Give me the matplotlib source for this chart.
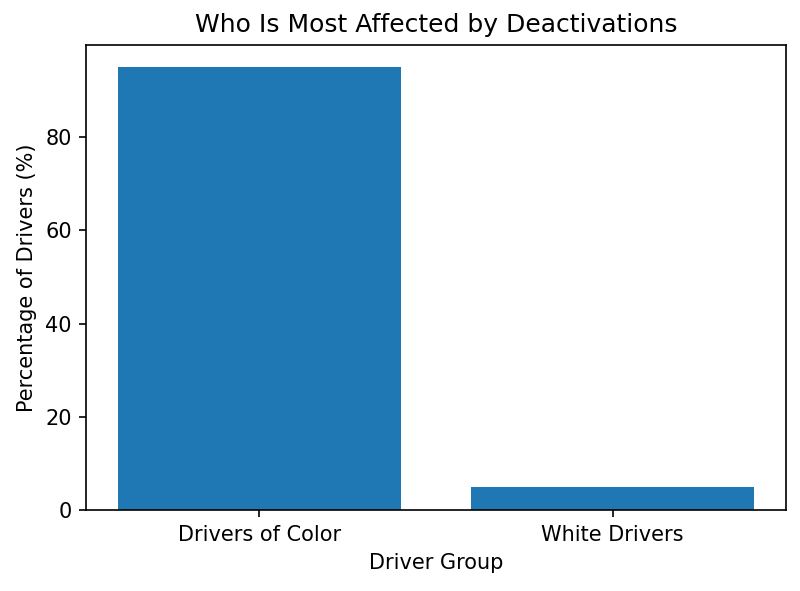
import matplotlib.pyplot as plt

groups = ["Drivers of Color", "White Drivers"]
percentages = [95, 5]

fig, ax = plt.subplots(figsize=(800 / 150, 591 / 150), dpi=150)
ax.bar(groups, percentages, color="#1f77b4")
ax.set_title("Who Is Most Affected by Deactivations")
ax.set_xlabel("Driver Group")
ax.set_ylabel("Percentage of Drivers (%)")
fig.subplots_adjust(left=0.108, right=0.982, top=0.924, bottom=0.137)
fig.savefig("out.png", dpi=150)
